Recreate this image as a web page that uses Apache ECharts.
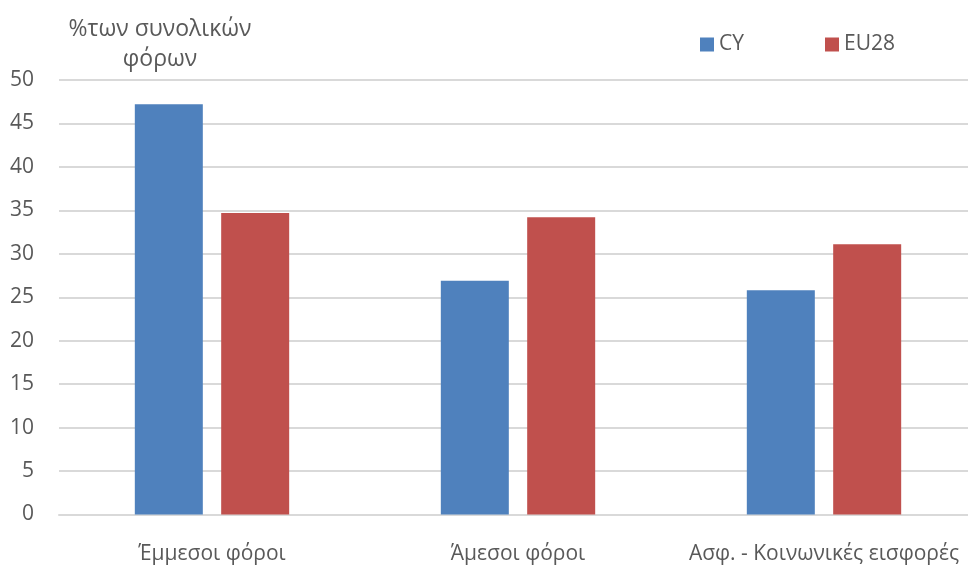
<!DOCTYPE html>
<html>
<head>
<meta charset="utf-8">
<script src="https://cdn.jsdelivr.net/npm/echarts@6/dist/echarts.min.js"></script>
<style>
  html, body { margin: 0; padding: 0; background: #ffffff; overflow: hidden; }
  #chart { width: 980px; height: 566px; }
</style>
</head>
<body>
<div id="chart"></div>
<script>
// Tax structure: share of total taxes, Cyprus vs EU28
const categories = ['Έμμεσοι φόροι', 'Άμεσοι φόροι', 'Ασφ. - Κοινωνικές εισφορές'];
const cyValues = [47.2, 26.9, 25.8];
const eu28Values = [34.7, 34.2, 31.1];
const seriesNames = ['CY', 'EU28'];
const yAxisTitle = '%των συνολικών\nφόρων';

const fontFamily = '"Open Sans", "Noto Sans", "DejaVu Sans", sans-serif';
const textColor = '#595959';

const chart = echarts.init(document.getElementById('chart'), null, { renderer: 'canvas' });

const legendText = { fontFamily: fontFamily, fontSize: 21, color: textColor };

chart.setOption({
  backgroundColor: '#ffffff',
  animation: false,
  textStyle: { fontFamily: fontFamily },
  title: {
    text: yAxisTitle,
    left: 155,
    top: 9,
    textAlign: 'center',
    textStyle: {
      fontFamily: fontFamily,
      fontSize: 23,
      fontWeight: 'normal',
      color: textColor,
      lineHeight: 30
    }
  },
  legend: [
    {
      data: [seriesNames[0]],
      top: 29,
      left: 695,
      itemWidth: 14,
      itemHeight: 14,
      icon: 'rect',
      textStyle: legendText
    },
    {
      data: [seriesNames[1]],
      top: 29,
      left: 820,
      itemWidth: 14,
      itemHeight: 14,
      icon: 'rect',
      textStyle: legendText
    }
  ],
  grid: {
    left: 59,
    top: 80,
    right: 3,
    height: 434.5,
    containLabel: false
  },
  xAxis: {
    type: 'category',
    data: categories,
    axisLine: { show: true, lineStyle: { color: '#d9d9d9', width: 2 } },
    axisTick: { show: false },
    axisLabel: {
      interval: 0,
      fontFamily: fontFamily,
      fontSize: 21,
      color: textColor,
      margin: 29
    }
  },
  yAxis: {
    type: 'value',
    min: 0,
    max: 50,
    interval: 5,
    axisLine: { show: false },
    axisTick: { show: false },
    splitLine: { lineStyle: { color: '#d9d9d9', width: 2 } },
    axisLabel: {
      fontFamily: fontFamily,
      fontSize: 21,
      color: textColor,
      margin: 25
    }
  },
  series: [
    {
      name: seriesNames[0],
      type: 'bar',
      data: cyValues,
      barWidth: 68,
      barGap: '27%',
      itemStyle: { color: '#4f81bd' }
    },
    {
      name: seriesNames[1],
      type: 'bar',
      data: eu28Values,
      barWidth: 68,
      barGap: '27%',
      itemStyle: { color: '#c0504d' }
    }
  ]
});
</script>
</body>
</html>
